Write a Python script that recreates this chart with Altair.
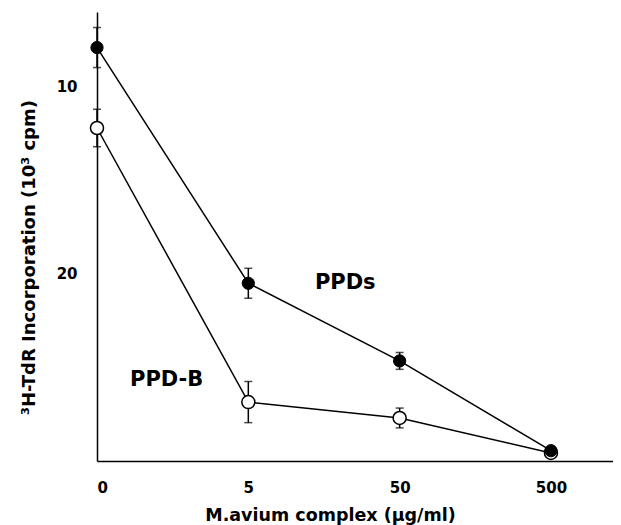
import altair as alt
import pandas as pd

doses = ["0", "5", "50", "500"]
xpos = [0, 1, 2, 3]
ppds = [7.9, 20.5, 24.65, 29.45]
ppds_err = [1.07, 0.8, 0.45, 0.0]
ppdb = [12.2, 26.85, 27.7, 29.57]
ppdb_err = [1.0, 1.1, 0.53, 0.0]

rows = []
for name, vals, errs in [("PPD-B", ppdb, ppdb_err), ("PPDs", ppds, ppds_err)]:
    for d, p, v, e in zip(doses, xpos, vals, errs):
        rows.append({"series": name, "dose": d, "pos": p, "value": v,
                     "lo": v - e, "hi": v + e, "has_err": e > 0})
df = pd.DataFrame(rows)

FONT = "DejaVu Sans"

xscale = alt.Scale(domain=[0, 3.41], nice=False, zero=False)
yscale = alt.Scale(domain=[6, 30], reverse=True, nice=False, zero=False)

label_expr = "datum.value == 0 ? '0' : datum.value == 1 ? '5' : datum.value == 2 ? '50' : datum.value == 3 ? '500' : ''"

x_axis = alt.Axis(values=[0, 1, 2, 3], labelExpr=label_expr, ticks=False, grid=False,
                  domainColor="black", domainWidth=1.5, labelFont=FONT, labelFontSize=15,
                  labelFontWeight="bold", labelColor="black", labelPadding=19,
                  title="M.avium complex (μg/ml)", titleFont=FONT, titleFontSize=17.5,
                  titleFontWeight="bold", titleColor="black", titleX=233, titleY=54,
                  titleBaseline="middle", titleAnchor="middle")
y_axis = alt.Axis(values=[10, 20], ticks=False, grid=False, domainColor="black",
                  domainWidth=1.5, labelFont=FONT, labelFontSize=15, labelFontWeight="bold",
                  labelColor="black", labelPadding=20,
                  title="³H-TdR Incorporation (10³ cpm)", titleFont=FONT, titleFontSize=18,
                  titleFontWeight="bold", titleColor="black", titleX=-68, titleY=245,
                  titleBaseline="middle", titleAnchor="middle", titleAngle=270)

base = alt.Chart(df)

lines = base.mark_line(color="black", strokeWidth=1.5).encode(
    x=alt.X("pos:Q", scale=xscale, axis=x_axis),
    y=alt.Y("value:Q", scale=yscale, axis=y_axis),
    detail="series:N",
)

err = base.transform_filter("datum.has_err").mark_rule(color="black", strokeWidth=1.5).encode(
    x="pos:Q", y="lo:Q", y2="hi:Q")
cap_lo = base.transform_filter("datum.has_err").mark_tick(
    color="black", orient="horizontal", size=8, thickness=1.5).encode(x="pos:Q", y="lo:Q")
cap_hi = base.transform_filter("datum.has_err").mark_tick(
    color="black", orient="horizontal", size=8, thickness=1.5).encode(x="pos:Q", y="hi:Q")

open_pts = base.transform_filter("datum.series == 'PPD-B'").mark_point(
    shape="circle", filled=True, fill="white", stroke="black", strokeWidth=1.5,
    size=170, opacity=1).encode(x="pos:Q", y="value:Q")
filled_pts = base.transform_filter("datum.series == 'PPDs'").mark_point(
    shape="circle", filled=True, fill="black", stroke="black", strokeWidth=1,
    size=150, opacity=1).encode(x="pos:Q", y="value:Q")

lab_df = pd.DataFrame({"text": ["PPDs", "PPD-B"], "pos": [1.44, 0.218], "value": [20.48, 25.67]})
labels = alt.Chart(lab_df).mark_text(font=FONT, fontSize=21, fontWeight="bold",
                                     align="left", baseline="middle", color="black").encode(
    x="pos:Q", y="value:Q", text="text:N")

chart = alt.layer(lines, err, cap_lo, cap_hi, open_pts, filled_pts, labels).properties(
    width=516, height=449,
    autosize=alt.AutoSizeParams(type="none"),
    padding={"left": 89, "top": 4, "right": 0, "bottom": 64},
    background="white",
).configure_view(stroke=None)

chart.save("out.html", embed_options={"renderer": "svg", "actions": False})
